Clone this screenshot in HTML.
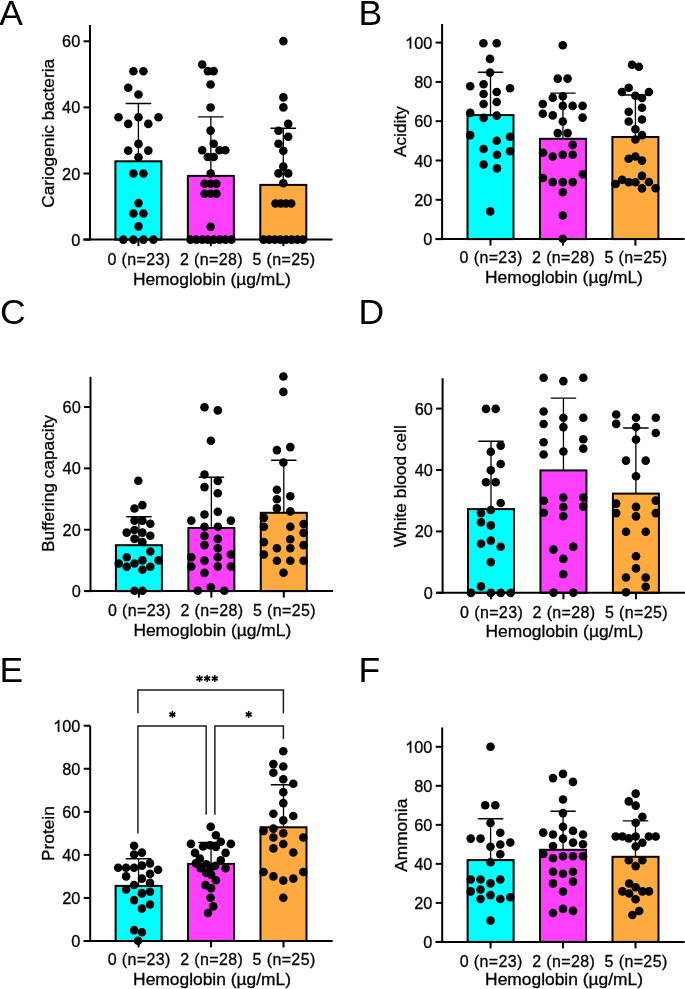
<!DOCTYPE html>
<html><head><meta charset="utf-8"><style>
html,body{margin:0;padding:0;background:#fff;}
svg{display:block;}
text{-webkit-font-smoothing:antialiased;}
text{font-family:"Liberation Sans", sans-serif;fill:#000;stroke:#000;stroke-width:0.3px;}
</style></head><body>
<svg style="will-change:transform" width="685" height="989" viewBox="0 0 685 989">
<rect width="685" height="989" fill="#fff"/>
<rect x="115.4" y="161.3" width="46" height="78.3" fill="#00FFFF" stroke="#000" stroke-width="2"/>
<rect x="187.85" y="175.9" width="46" height="63.7" fill="#FF40FF" stroke="#000" stroke-width="2"/>
<rect x="260.3" y="184.9" width="46" height="54.7" fill="#FFAB40" stroke="#000" stroke-width="2"/>
<line x1="138.4" y1="161.3" x2="138.4" y2="103.5" stroke="#000" stroke-width="1.3"/>
<line stroke-linecap="round" x1="126.2" y1="103.5" x2="150.6" y2="103.5" stroke="#000" stroke-width="1.4"/>
<line x1="210.85" y1="175.9" x2="210.85" y2="116.9" stroke="#000" stroke-width="1.3"/>
<line stroke-linecap="round" x1="198.65" y1="116.9" x2="223.05" y2="116.9" stroke="#000" stroke-width="1.4"/>
<line x1="283.3" y1="184.9" x2="283.3" y2="128.2" stroke="#000" stroke-width="1.3"/>
<line stroke-linecap="round" x1="271.1" y1="128.2" x2="295.5" y2="128.2" stroke="#000" stroke-width="1.4"/>
<circle cx="133.4" cy="71.2" r="4.3"/>
<circle cx="143.4" cy="71.2" r="4.3"/>
<circle cx="128.2" cy="87.8" r="4.3"/>
<circle cx="138.5" cy="94.5" r="4.3"/>
<circle cx="118.5" cy="117.2" r="4.3"/>
<circle cx="138.5" cy="117.2" r="4.3"/>
<circle cx="158.5" cy="117.2" r="4.3"/>
<circle cx="128.2" cy="123.9" r="4.3"/>
<circle cx="148.3" cy="123.9" r="4.3"/>
<circle cx="138.5" cy="143.9" r="4.3"/>
<circle cx="128.2" cy="150.6" r="4.3"/>
<circle cx="148.3" cy="150.6" r="4.3"/>
<circle cx="138.5" cy="157.3" r="4.3"/>
<circle cx="133.4" cy="173.5" r="4.3"/>
<circle cx="143.4" cy="173.5" r="4.3"/>
<circle cx="138.5" cy="203.1" r="4.3"/>
<circle cx="133.4" cy="213.5" r="4.3"/>
<circle cx="143.4" cy="213.5" r="4.3"/>
<circle cx="138.5" cy="226.4" r="4.3"/>
<circle cx="123.3" cy="239.6" r="4.3"/>
<circle cx="133.4" cy="239.6" r="4.3"/>
<circle cx="143.4" cy="239.6" r="4.3"/>
<circle cx="153.4" cy="239.6" r="4.3"/>
<circle cx="202.2" cy="64.5" r="4.3"/>
<circle cx="207.8" cy="71.1" r="4.3"/>
<circle cx="213.7" cy="71.1" r="4.3"/>
<circle cx="210.6" cy="84.5" r="4.3"/>
<circle cx="210.6" cy="107.5" r="4.3"/>
<circle cx="210.6" cy="130.6" r="4.3"/>
<circle cx="213.7" cy="143.7" r="4.3"/>
<circle cx="202.2" cy="150.3" r="4.3"/>
<circle cx="219.5" cy="150.3" r="4.3"/>
<circle cx="225.3" cy="150.3" r="4.3"/>
<circle cx="207.8" cy="157" r="4.3"/>
<circle cx="213.7" cy="157" r="4.3"/>
<circle cx="210.7" cy="173.5" r="4.3"/>
<circle cx="204.6" cy="183.8" r="4.3"/>
<circle cx="210.7" cy="183.8" r="4.3"/>
<circle cx="216.4" cy="183.8" r="4.3"/>
<circle cx="204.6" cy="193.7" r="4.3"/>
<circle cx="210.7" cy="193.7" r="4.3"/>
<circle cx="216.4" cy="193.7" r="4.3"/>
<circle cx="210.7" cy="226.7" r="4.3"/>
<circle cx="190.5" cy="239.6" r="4.3"/>
<circle cx="196.4" cy="239.6" r="4.3"/>
<circle cx="202.3" cy="239.6" r="4.3"/>
<circle cx="207.7" cy="239.6" r="4.3"/>
<circle cx="213.7" cy="239.6" r="4.3"/>
<circle cx="219.6" cy="239.6" r="4.3"/>
<circle cx="225.5" cy="239.6" r="4.3"/>
<circle cx="231.4" cy="239.6" r="4.3"/>
<circle cx="283.4" cy="41.1" r="4.3"/>
<circle cx="283.4" cy="97.4" r="4.3"/>
<circle cx="283.4" cy="107.4" r="4.3"/>
<circle cx="288.2" cy="123.9" r="4.3"/>
<circle cx="278.5" cy="130.7" r="4.3"/>
<circle cx="288.2" cy="136.8" r="4.3"/>
<circle cx="278.5" cy="143.7" r="4.3"/>
<circle cx="283.3" cy="150.8" r="4.3"/>
<circle cx="283.3" cy="166.6" r="4.3"/>
<circle cx="278.5" cy="173.4" r="4.3"/>
<circle cx="288.2" cy="173.4" r="4.3"/>
<circle cx="283.3" cy="183.2" r="4.3"/>
<circle cx="275.5" cy="203.5" r="4.3"/>
<circle cx="280.7" cy="203.5" r="4.3"/>
<circle cx="285.9" cy="203.5" r="4.3"/>
<circle cx="291.2" cy="203.5" r="4.3"/>
<circle cx="263.5" cy="239.6" r="4.3"/>
<circle cx="269.15" cy="239.6" r="4.3"/>
<circle cx="274.8" cy="239.6" r="4.3"/>
<circle cx="280.45" cy="239.6" r="4.3"/>
<circle cx="286.1" cy="239.6" r="4.3"/>
<circle cx="291.75" cy="239.6" r="4.3"/>
<circle cx="297.4" cy="239.6" r="4.3"/>
<circle cx="303.05" cy="239.6" r="4.3"/>
<line x1="90" y1="25" x2="90" y2="240.6" stroke="#000" stroke-width="2"/>
<line x1="83.5" y1="239.6" x2="332.5" y2="239.6" stroke="#000" stroke-width="2"/>
<line x1="83.5" y1="239.6" x2="90" y2="239.6" stroke="#000" stroke-width="2"/>
<text transform="translate(80.2,245.6)" font-size="16.3" text-anchor="end">0</text>
<line x1="83.5" y1="173.5" x2="90" y2="173.5" stroke="#000" stroke-width="2"/>
<text transform="translate(80.2,179.5)" font-size="16.3" text-anchor="end">20</text>
<line x1="83.5" y1="107.4" x2="90" y2="107.4" stroke="#000" stroke-width="2"/>
<text transform="translate(80.2,113.4)" font-size="16.3" text-anchor="end">40</text>
<line x1="83.5" y1="41.3" x2="90" y2="41.3" stroke="#000" stroke-width="2"/>
<text transform="translate(80.2,47.3)" font-size="16.3" text-anchor="end">60</text>
<line x1="138.4" y1="239.6" x2="138.4" y2="246.1" stroke="#000" stroke-width="2"/>
<line x1="210.85" y1="239.6" x2="210.85" y2="246.1" stroke="#000" stroke-width="2"/>
<line x1="283.3" y1="239.6" x2="283.3" y2="246.1" stroke="#000" stroke-width="2"/>
<text x="139" y="264.5" font-size="16" letter-spacing="0.37" text-anchor="middle">0 (n=23)</text>
<text x="211.45" y="264.5" font-size="16" letter-spacing="0.37" text-anchor="middle">2 (n=28)</text>
<text x="283.9" y="264.5" font-size="16" letter-spacing="0.37" text-anchor="middle">5 (n=25)</text>
<text x="211.85" y="284.9" font-size="17.4" text-anchor="middle">Hemoglobin (µg/mL)</text>
<text transform="translate(54.1,133.3) rotate(-90)" font-size="17.3" text-anchor="middle">Cariogenic bacteria</text>
<text x="-0.8" y="24.8" font-size="35.5" style="stroke:none">A</text>
<rect x="467.5" y="115.1" width="46" height="124" fill="#00FFFF" stroke="#000" stroke-width="2"/>
<rect x="539.95" y="138.8" width="46" height="100.3" fill="#FF40FF" stroke="#000" stroke-width="2"/>
<rect x="612.4" y="137" width="46" height="102.1" fill="#FFAB40" stroke="#000" stroke-width="2"/>
<line x1="490.5" y1="115.1" x2="490.5" y2="72.3" stroke="#000" stroke-width="1.3"/>
<line stroke-linecap="round" x1="478.3" y1="72.3" x2="502.7" y2="72.3" stroke="#000" stroke-width="1.4"/>
<line x1="562.95" y1="138.8" x2="562.95" y2="93.1" stroke="#000" stroke-width="1.3"/>
<line stroke-linecap="round" x1="550.75" y1="93.1" x2="575.15" y2="93.1" stroke="#000" stroke-width="1.4"/>
<line x1="635.4" y1="137" x2="635.4" y2="95" stroke="#000" stroke-width="1.3"/>
<line stroke-linecap="round" x1="623.2" y1="95" x2="647.6" y2="95" stroke="#000" stroke-width="1.4"/>
<circle cx="483.4" cy="43.3" r="4.3"/>
<circle cx="496.7" cy="43.3" r="4.3"/>
<circle cx="490" cy="58.9" r="4.3"/>
<circle cx="490" cy="72.6" r="4.3"/>
<circle cx="470.2" cy="86.2" r="4.3"/>
<circle cx="483.6" cy="84.3" r="4.3"/>
<circle cx="510" cy="88.2" r="4.3"/>
<circle cx="483.6" cy="94" r="4.3"/>
<circle cx="496.7" cy="92" r="4.3"/>
<circle cx="483.6" cy="104" r="4.3"/>
<circle cx="496.7" cy="102" r="4.3"/>
<circle cx="470.2" cy="112.9" r="4.3"/>
<circle cx="483.6" cy="117.9" r="4.3"/>
<circle cx="496.7" cy="115.6" r="4.3"/>
<circle cx="470.2" cy="135.1" r="4.3"/>
<circle cx="510" cy="136.8" r="4.3"/>
<circle cx="496.7" cy="140.7" r="4.3"/>
<circle cx="483.6" cy="149" r="4.3"/>
<circle cx="510" cy="151.2" r="4.3"/>
<circle cx="497" cy="154.8" r="4.3"/>
<circle cx="483.6" cy="164.5" r="4.3"/>
<circle cx="497" cy="168.4" r="4.3"/>
<circle cx="490.2" cy="211.4" r="4.3"/>
<circle cx="562.8" cy="45.2" r="4.3"/>
<circle cx="557.8" cy="78.6" r="4.3"/>
<circle cx="567.6" cy="78.6" r="4.3"/>
<circle cx="562.8" cy="96.2" r="4.3"/>
<circle cx="552.8" cy="97.8" r="4.3"/>
<circle cx="542.8" cy="104" r="4.3"/>
<circle cx="562.8" cy="105.9" r="4.3"/>
<circle cx="572.6" cy="105.9" r="4.3"/>
<circle cx="582.6" cy="105.9" r="4.3"/>
<circle cx="542.8" cy="113.8" r="4.3"/>
<circle cx="552.8" cy="115.4" r="4.3"/>
<circle cx="582.6" cy="117.6" r="4.3"/>
<circle cx="562.8" cy="121.5" r="4.3"/>
<circle cx="557.8" cy="133.1" r="4.3"/>
<circle cx="567.6" cy="133.1" r="4.3"/>
<circle cx="572.7" cy="144.9" r="4.3"/>
<circle cx="543" cy="152.7" r="4.3"/>
<circle cx="552.7" cy="156.5" r="4.3"/>
<circle cx="562.8" cy="154.7" r="4.3"/>
<circle cx="572.7" cy="154.7" r="4.3"/>
<circle cx="582.8" cy="174.2" r="4.3"/>
<circle cx="543" cy="178" r="4.3"/>
<circle cx="552.7" cy="182.1" r="4.3"/>
<circle cx="562.8" cy="182.1" r="4.3"/>
<circle cx="572.7" cy="182.1" r="4.3"/>
<circle cx="562.8" cy="192.2" r="4.3"/>
<circle cx="562.8" cy="215.5" r="4.3"/>
<circle cx="562.8" cy="238.7" r="4.3"/>
<circle cx="632" cy="64.7" r="4.3"/>
<circle cx="638.9" cy="66.7" r="4.3"/>
<circle cx="628.7" cy="87.8" r="4.3"/>
<circle cx="621.9" cy="92" r="4.3"/>
<circle cx="648.9" cy="92" r="4.3"/>
<circle cx="635.4" cy="95.8" r="4.3"/>
<circle cx="642" cy="98" r="4.3"/>
<circle cx="642" cy="107.8" r="4.3"/>
<circle cx="628.7" cy="111.7" r="4.3"/>
<circle cx="628.7" cy="121.5" r="4.3"/>
<circle cx="642" cy="119.5" r="4.3"/>
<circle cx="635.4" cy="129.3" r="4.3"/>
<circle cx="642" cy="135.1" r="4.3"/>
<circle cx="635.4" cy="139.5" r="4.3"/>
<circle cx="628.7" cy="158.7" r="4.3"/>
<circle cx="635.4" cy="156.5" r="4.3"/>
<circle cx="642" cy="160.6" r="4.3"/>
<circle cx="615.6" cy="184" r="4.3"/>
<circle cx="622.2" cy="179.8" r="4.3"/>
<circle cx="628.7" cy="182.3" r="4.3"/>
<circle cx="635.4" cy="182.3" r="4.3"/>
<circle cx="642" cy="175.9" r="4.3"/>
<circle cx="642" cy="188.4" r="4.3"/>
<circle cx="648.9" cy="182" r="4.3"/>
<circle cx="655.6" cy="188.2" r="4.3"/>
<line x1="442.1" y1="24" x2="442.1" y2="240.1" stroke="#000" stroke-width="2"/>
<line x1="435.6" y1="239.1" x2="684.6" y2="239.1" stroke="#000" stroke-width="2"/>
<line x1="435.6" y1="239.1" x2="442.1" y2="239.1" stroke="#000" stroke-width="2"/>
<text transform="translate(432.3,245.1)" font-size="16.3" text-anchor="end">0</text>
<line x1="435.6" y1="199.8" x2="442.1" y2="199.8" stroke="#000" stroke-width="2"/>
<text transform="translate(432.3,205.8)" font-size="16.3" text-anchor="end">20</text>
<line x1="435.6" y1="160.5" x2="442.1" y2="160.5" stroke="#000" stroke-width="2"/>
<text transform="translate(432.3,166.5)" font-size="16.3" text-anchor="end">40</text>
<line x1="435.6" y1="121.2" x2="442.1" y2="121.2" stroke="#000" stroke-width="2"/>
<text transform="translate(432.3,127.2)" font-size="16.3" text-anchor="end">60</text>
<line x1="435.6" y1="81.9" x2="442.1" y2="81.9" stroke="#000" stroke-width="2"/>
<text transform="translate(432.3,87.9)" font-size="16.3" text-anchor="end">80</text>
<line x1="435.6" y1="42.6" x2="442.1" y2="42.6" stroke="#000" stroke-width="2"/>
<text transform="translate(432.3,48.6)" font-size="16.3" text-anchor="end">00</text>
<path transform="translate(405.1,48.6) scale(0.007959,-0.007959)" d="M763 0L583 0L583 1147Q518 1085 412 1023Q306 961 221 930L221 1104Q372 1175 485 1276Q598 1377 645 1472L763 1472Z" stroke="#000" stroke-width="37.7"/>
<line x1="490.5" y1="239.1" x2="490.5" y2="245.6" stroke="#000" stroke-width="2"/>
<line x1="562.95" y1="239.1" x2="562.95" y2="245.6" stroke="#000" stroke-width="2"/>
<line x1="635.4" y1="239.1" x2="635.4" y2="245.6" stroke="#000" stroke-width="2"/>
<text x="491.1" y="263.3" font-size="16" letter-spacing="0.37" text-anchor="middle">0 (n=23)</text>
<text x="563.55" y="263.3" font-size="16" letter-spacing="0.37" text-anchor="middle">2 (n=28)</text>
<text x="636" y="263.3" font-size="16" letter-spacing="0.37" text-anchor="middle">5 (n=25)</text>
<text x="563.95" y="283" font-size="17.4" text-anchor="middle">Hemoglobin (µg/mL)</text>
<text transform="translate(406.2,131.6) rotate(-90)" font-size="17.3" text-anchor="middle">Acidity</text>
<text x="358.6" y="24.8" font-size="35.5" style="stroke:none">B</text>
<rect x="115.9" y="545.2" width="46" height="45.9" fill="#00FFFF" stroke="#000" stroke-width="2"/>
<rect x="188.35" y="528" width="46" height="63.1" fill="#FF40FF" stroke="#000" stroke-width="2"/>
<rect x="260.8" y="512.8" width="46" height="78.3" fill="#FFAB40" stroke="#000" stroke-width="2"/>
<line x1="138.9" y1="545.2" x2="138.9" y2="516.8" stroke="#000" stroke-width="1.3"/>
<line stroke-linecap="round" x1="126.7" y1="516.8" x2="151.1" y2="516.8" stroke="#000" stroke-width="1.4"/>
<line x1="211.35" y1="528" x2="211.35" y2="477.3" stroke="#000" stroke-width="1.3"/>
<line stroke-linecap="round" x1="199.15" y1="477.3" x2="223.55" y2="477.3" stroke="#000" stroke-width="1.4"/>
<line x1="283.8" y1="512.8" x2="283.8" y2="460.3" stroke="#000" stroke-width="1.3"/>
<line stroke-linecap="round" x1="271.6" y1="460.3" x2="296" y2="460.3" stroke="#000" stroke-width="1.4"/>
<circle cx="138.3" cy="480.7" r="4.3"/>
<circle cx="142.4" cy="505.1" r="4.3"/>
<circle cx="134.5" cy="508.5" r="4.3"/>
<circle cx="134.5" cy="520.6" r="4.3"/>
<circle cx="142.4" cy="520.6" r="4.3"/>
<circle cx="150.3" cy="523.7" r="4.3"/>
<circle cx="126.7" cy="532.6" r="4.3"/>
<circle cx="134.5" cy="530" r="4.3"/>
<circle cx="142.4" cy="532.6" r="4.3"/>
<circle cx="150.3" cy="535.7" r="4.3"/>
<circle cx="134.5" cy="538.9" r="4.3"/>
<circle cx="142.4" cy="542" r="4.3"/>
<circle cx="150.3" cy="551.5" r="4.3"/>
<circle cx="126.7" cy="557.2" r="4.3"/>
<circle cx="118.7" cy="563.5" r="4.3"/>
<circle cx="134.5" cy="563.5" r="4.3"/>
<circle cx="142.4" cy="560.4" r="4.3"/>
<circle cx="158.6" cy="560.4" r="4.3"/>
<circle cx="126.7" cy="566.7" r="4.3"/>
<circle cx="142.4" cy="569.8" r="4.3"/>
<circle cx="150.3" cy="566.7" r="4.3"/>
<circle cx="134.5" cy="590.7" r="4.3"/>
<circle cx="142.4" cy="590.7" r="4.3"/>
<circle cx="204.5" cy="407.2" r="4.3"/>
<circle cx="217.8" cy="410.4" r="4.3"/>
<circle cx="210.9" cy="440.8" r="4.3"/>
<circle cx="204.5" cy="474.5" r="4.3"/>
<circle cx="217.8" cy="480.9" r="4.3"/>
<circle cx="204.5" cy="487.1" r="4.3"/>
<circle cx="217.8" cy="493.3" r="4.3"/>
<circle cx="204.5" cy="514.5" r="4.3"/>
<circle cx="217.8" cy="511.7" r="4.3"/>
<circle cx="191.3" cy="520.6" r="4.3"/>
<circle cx="230.9" cy="520.6" r="4.3"/>
<circle cx="204.5" cy="526.7" r="4.3"/>
<circle cx="217.8" cy="526.7" r="4.3"/>
<circle cx="204.5" cy="535.9" r="4.3"/>
<circle cx="217.8" cy="538.9" r="4.3"/>
<circle cx="204.5" cy="545.1" r="4.3"/>
<circle cx="217.8" cy="548.2" r="4.3"/>
<circle cx="191.3" cy="557.3" r="4.3"/>
<circle cx="230.9" cy="554.5" r="4.3"/>
<circle cx="204.5" cy="560.6" r="4.3"/>
<circle cx="217.8" cy="557.3" r="4.3"/>
<circle cx="191.3" cy="566.5" r="4.3"/>
<circle cx="217.8" cy="566.5" r="4.3"/>
<circle cx="230.9" cy="566.5" r="4.3"/>
<circle cx="204.5" cy="572.9" r="4.3"/>
<circle cx="210.9" cy="587.3" r="4.3"/>
<circle cx="197.8" cy="590.7" r="4.3"/>
<circle cx="224.3" cy="590.7" r="4.3"/>
<circle cx="283.4" cy="376.5" r="4.3"/>
<circle cx="283.4" cy="391.9" r="4.3"/>
<circle cx="276.9" cy="450.1" r="4.3"/>
<circle cx="290.3" cy="447.1" r="4.3"/>
<circle cx="283.4" cy="462.5" r="4.3"/>
<circle cx="276.9" cy="489.8" r="4.3"/>
<circle cx="290.3" cy="496.2" r="4.3"/>
<circle cx="276.9" cy="499.2" r="4.3"/>
<circle cx="276.9" cy="508.4" r="4.3"/>
<circle cx="290.3" cy="511.4" r="4.3"/>
<circle cx="263.9" cy="517.8" r="4.3"/>
<circle cx="303.6" cy="524" r="4.3"/>
<circle cx="263.9" cy="526.7" r="4.3"/>
<circle cx="290.3" cy="526.7" r="4.3"/>
<circle cx="303.6" cy="532.9" r="4.3"/>
<circle cx="263.9" cy="542.1" r="4.3"/>
<circle cx="290.3" cy="539.2" r="4.3"/>
<circle cx="276.9" cy="548.2" r="4.3"/>
<circle cx="290.3" cy="548.2" r="4.3"/>
<circle cx="303.6" cy="545.1" r="4.3"/>
<circle cx="263.9" cy="554.5" r="4.3"/>
<circle cx="276.9" cy="560.7" r="4.3"/>
<circle cx="290.3" cy="560.7" r="4.3"/>
<circle cx="303.6" cy="560.7" r="4.3"/>
<circle cx="283.5" cy="572.8" r="4.3"/>
<line x1="90.5" y1="376.8" x2="90.5" y2="592.1" stroke="#000" stroke-width="2"/>
<line x1="84" y1="591.1" x2="333" y2="591.1" stroke="#000" stroke-width="2"/>
<line x1="84" y1="591.1" x2="90.5" y2="591.1" stroke="#000" stroke-width="2"/>
<text transform="translate(80.7,597.1)" font-size="16.3" text-anchor="end">0</text>
<line x1="84" y1="529.74" x2="90.5" y2="529.74" stroke="#000" stroke-width="2"/>
<text transform="translate(80.7,535.74)" font-size="16.3" text-anchor="end">20</text>
<line x1="84" y1="468.38" x2="90.5" y2="468.38" stroke="#000" stroke-width="2"/>
<text transform="translate(80.7,474.38)" font-size="16.3" text-anchor="end">40</text>
<line x1="84" y1="407.02" x2="90.5" y2="407.02" stroke="#000" stroke-width="2"/>
<text transform="translate(80.7,413.02)" font-size="16.3" text-anchor="end">60</text>
<line x1="138.9" y1="591.1" x2="138.9" y2="597.6" stroke="#000" stroke-width="2"/>
<line x1="211.35" y1="591.1" x2="211.35" y2="597.6" stroke="#000" stroke-width="2"/>
<line x1="283.8" y1="591.1" x2="283.8" y2="597.6" stroke="#000" stroke-width="2"/>
<text x="139.5" y="615.9" font-size="16" letter-spacing="0.37" text-anchor="middle">0 (n=23)</text>
<text x="211.95" y="615.9" font-size="16" letter-spacing="0.37" text-anchor="middle">2 (n=28)</text>
<text x="284.4" y="615.9" font-size="16" letter-spacing="0.37" text-anchor="middle">5 (n=25)</text>
<text x="212.35" y="635.6" font-size="17.4" text-anchor="middle">Hemoglobin (µg/mL)</text>
<text transform="translate(53.6,483.4) rotate(-90)" font-size="17.3" text-anchor="middle">Buffering capacity</text>
<text x="0" y="324.1" font-size="35.5" style="stroke:none">C</text>
<rect x="468" y="509.1" width="46" height="83.7" fill="#00FFFF" stroke="#000" stroke-width="2"/>
<rect x="540.45" y="470.4" width="46" height="122.4" fill="#FF40FF" stroke="#000" stroke-width="2"/>
<rect x="612.9" y="493.6" width="46" height="99.2" fill="#FFAB40" stroke="#000" stroke-width="2"/>
<line x1="491" y1="509.1" x2="491" y2="441.2" stroke="#000" stroke-width="1.3"/>
<line stroke-linecap="round" x1="478.8" y1="441.2" x2="503.2" y2="441.2" stroke="#000" stroke-width="1.4"/>
<line x1="563.45" y1="470.4" x2="563.45" y2="398.1" stroke="#000" stroke-width="1.3"/>
<line stroke-linecap="round" x1="551.25" y1="398.1" x2="575.65" y2="398.1" stroke="#000" stroke-width="1.4"/>
<line x1="635.9" y1="493.6" x2="635.9" y2="428" stroke="#000" stroke-width="1.3"/>
<line stroke-linecap="round" x1="623.7" y1="428" x2="648.1" y2="428" stroke="#000" stroke-width="1.4"/>
<circle cx="486" cy="408.9" r="4.3"/>
<circle cx="495.7" cy="408.9" r="4.3"/>
<circle cx="500.7" cy="445.6" r="4.3"/>
<circle cx="490.8" cy="451.7" r="4.3"/>
<circle cx="500.7" cy="464" r="4.3"/>
<circle cx="490.8" cy="470.3" r="4.3"/>
<circle cx="486" cy="482.3" r="4.3"/>
<circle cx="495.7" cy="482.3" r="4.3"/>
<circle cx="500.7" cy="503" r="4.3"/>
<circle cx="490.8" cy="510" r="4.3"/>
<circle cx="481" cy="513.1" r="4.3"/>
<circle cx="481" cy="522.3" r="4.3"/>
<circle cx="490.8" cy="525.4" r="4.3"/>
<circle cx="490.8" cy="540.6" r="4.3"/>
<circle cx="481" cy="543.7" r="4.3"/>
<circle cx="500.7" cy="546.7" r="4.3"/>
<circle cx="490.8" cy="562.1" r="4.3"/>
<circle cx="481" cy="586.4" r="4.3"/>
<circle cx="471" cy="592.9" r="4.3"/>
<circle cx="490.8" cy="592.9" r="4.3"/>
<circle cx="500.7" cy="592.9" r="4.3"/>
<circle cx="510.6" cy="592.9" r="4.3"/>
<circle cx="543.6" cy="377.8" r="4.3"/>
<circle cx="563.4" cy="381.1" r="4.3"/>
<circle cx="583.3" cy="377.8" r="4.3"/>
<circle cx="543.6" cy="411.5" r="4.3"/>
<circle cx="563.4" cy="417.8" r="4.3"/>
<circle cx="583.3" cy="417.8" r="4.3"/>
<circle cx="543.6" cy="424" r="4.3"/>
<circle cx="563.4" cy="427.1" r="4.3"/>
<circle cx="543.6" cy="442.3" r="4.3"/>
<circle cx="583.3" cy="439.3" r="4.3"/>
<circle cx="583.3" cy="448.6" r="4.3"/>
<circle cx="563.4" cy="451.5" r="4.3"/>
<circle cx="543.6" cy="454.5" r="4.3"/>
<circle cx="543.9" cy="500.8" r="4.3"/>
<circle cx="563.3" cy="497.5" r="4.3"/>
<circle cx="583.2" cy="497.5" r="4.3"/>
<circle cx="543.9" cy="512.8" r="4.3"/>
<circle cx="563.3" cy="507" r="4.3"/>
<circle cx="583.2" cy="506.6" r="4.3"/>
<circle cx="563.3" cy="516.2" r="4.3"/>
<circle cx="553.5" cy="549.6" r="4.3"/>
<circle cx="573.3" cy="546.6" r="4.3"/>
<circle cx="563.3" cy="558.9" r="4.3"/>
<circle cx="563.3" cy="574.2" r="4.3"/>
<circle cx="553.5" cy="592.6" r="4.3"/>
<circle cx="573.3" cy="592.6" r="4.3"/>
<circle cx="616.2" cy="414.5" r="4.3"/>
<circle cx="616.2" cy="423.9" r="4.3"/>
<circle cx="636" cy="417.8" r="4.3"/>
<circle cx="655.8" cy="417.8" r="4.3"/>
<circle cx="636" cy="427" r="4.3"/>
<circle cx="655.8" cy="433" r="4.3"/>
<circle cx="636" cy="439.5" r="4.3"/>
<circle cx="626" cy="460.6" r="4.3"/>
<circle cx="645.7" cy="460.6" r="4.3"/>
<circle cx="636" cy="476.2" r="4.3"/>
<circle cx="616.2" cy="503.6" r="4.3"/>
<circle cx="655.8" cy="500.6" r="4.3"/>
<circle cx="636" cy="506.9" r="4.3"/>
<circle cx="616.2" cy="513.1" r="4.3"/>
<circle cx="655.8" cy="513.1" r="4.3"/>
<circle cx="636" cy="516.4" r="4.3"/>
<circle cx="626" cy="531.7" r="4.3"/>
<circle cx="645.7" cy="531.7" r="4.3"/>
<circle cx="636" cy="556.2" r="4.3"/>
<circle cx="636" cy="568.4" r="4.3"/>
<circle cx="626" cy="577.5" r="4.3"/>
<circle cx="645.7" cy="577.5" r="4.3"/>
<circle cx="645.7" cy="586.8" r="4.3"/>
<circle cx="626" cy="592.3" r="4.3"/>
<line x1="442.6" y1="378.2" x2="442.6" y2="593.8" stroke="#000" stroke-width="2"/>
<line x1="436.1" y1="592.8" x2="685.1" y2="592.8" stroke="#000" stroke-width="2"/>
<line x1="436.1" y1="592.8" x2="442.6" y2="592.8" stroke="#000" stroke-width="2"/>
<text transform="translate(432.8,598.8)" font-size="16.3" text-anchor="end">0</text>
<line x1="436.1" y1="531.4" x2="442.6" y2="531.4" stroke="#000" stroke-width="2"/>
<text transform="translate(432.8,537.4)" font-size="16.3" text-anchor="end">20</text>
<line x1="436.1" y1="470" x2="442.6" y2="470" stroke="#000" stroke-width="2"/>
<text transform="translate(432.8,476)" font-size="16.3" text-anchor="end">40</text>
<line x1="436.1" y1="408.6" x2="442.6" y2="408.6" stroke="#000" stroke-width="2"/>
<text transform="translate(432.8,414.6)" font-size="16.3" text-anchor="end">60</text>
<line x1="491" y1="592.8" x2="491" y2="599.3" stroke="#000" stroke-width="2"/>
<line x1="563.45" y1="592.8" x2="563.45" y2="599.3" stroke="#000" stroke-width="2"/>
<line x1="635.9" y1="592.8" x2="635.9" y2="599.3" stroke="#000" stroke-width="2"/>
<text x="491.6" y="617.7" font-size="16" letter-spacing="0.37" text-anchor="middle">0 (n=23)</text>
<text x="564.05" y="617.7" font-size="16" letter-spacing="0.37" text-anchor="middle">2 (n=28)</text>
<text x="636.5" y="617.7" font-size="16" letter-spacing="0.37" text-anchor="middle">5 (n=25)</text>
<text x="564.45" y="637" font-size="17.4" text-anchor="middle">Hemoglobin (µg/mL)</text>
<text transform="translate(406.4,486.2) rotate(-90)" font-size="17.3" text-anchor="middle">White blood cell</text>
<text x="358.6" y="324.1" font-size="35.5" style="stroke:none">D</text>
<rect x="115.6" y="885.9" width="46" height="55.1" fill="#00FFFF" stroke="#000" stroke-width="2"/>
<rect x="188.05" y="863.9" width="46" height="77.1" fill="#FF40FF" stroke="#000" stroke-width="2"/>
<rect x="260.5" y="827.3" width="46" height="113.7" fill="#FFAB40" stroke="#000" stroke-width="2"/>
<line x1="138.6" y1="885.9" x2="138.6" y2="858.7" stroke="#000" stroke-width="1.3"/>
<line stroke-linecap="round" x1="126.4" y1="858.7" x2="150.8" y2="858.7" stroke="#000" stroke-width="1.4"/>
<line x1="211.05" y1="863.9" x2="211.05" y2="842.5" stroke="#000" stroke-width="1.3"/>
<line stroke-linecap="round" x1="198.85" y1="842.5" x2="223.25" y2="842.5" stroke="#000" stroke-width="1.4"/>
<line x1="283.5" y1="827.3" x2="283.5" y2="784.7" stroke="#000" stroke-width="1.3"/>
<line stroke-linecap="round" x1="271.3" y1="784.7" x2="295.7" y2="784.7" stroke="#000" stroke-width="1.4"/>
<circle cx="134.1" cy="845.8" r="4.3"/>
<circle cx="141.9" cy="852.6" r="4.3"/>
<circle cx="134.1" cy="854.5" r="4.3"/>
<circle cx="150" cy="863.4" r="4.3"/>
<circle cx="118.2" cy="867.8" r="4.3"/>
<circle cx="126.1" cy="867.8" r="4.3"/>
<circle cx="134.1" cy="867.8" r="4.3"/>
<circle cx="141.9" cy="865.6" r="4.3"/>
<circle cx="158.1" cy="869.7" r="4.3"/>
<circle cx="126.1" cy="876.4" r="4.3"/>
<circle cx="150" cy="873.9" r="4.3"/>
<circle cx="141.9" cy="878.6" r="4.3"/>
<circle cx="134.1" cy="885" r="4.3"/>
<circle cx="150" cy="882.8" r="4.3"/>
<circle cx="126.1" cy="889.5" r="4.3"/>
<circle cx="141.9" cy="893.4" r="4.3"/>
<circle cx="150" cy="891.7" r="4.3"/>
<circle cx="134.1" cy="900.1" r="4.3"/>
<circle cx="150" cy="904.5" r="4.3"/>
<circle cx="141.9" cy="908.6" r="4.3"/>
<circle cx="134.1" cy="930.1" r="4.3"/>
<circle cx="141.9" cy="932.3" r="4.3"/>
<circle cx="138" cy="940.7" r="4.3"/>
<circle cx="210.7" cy="826.8" r="4.3"/>
<circle cx="215.9" cy="835.3" r="4.3"/>
<circle cx="220.8" cy="841.7" r="4.3"/>
<circle cx="190.9" cy="843.9" r="4.3"/>
<circle cx="230.8" cy="843.9" r="4.3"/>
<circle cx="203.1" cy="846.5" r="4.3"/>
<circle cx="209.9" cy="845.3" r="4.3"/>
<circle cx="215.9" cy="846.9" r="4.3"/>
<circle cx="195" cy="852.9" r="4.3"/>
<circle cx="225.6" cy="852.9" r="4.3"/>
<circle cx="199.9" cy="858.6" r="4.3"/>
<circle cx="220.8" cy="860.2" r="4.3"/>
<circle cx="195.9" cy="863.4" r="4.3"/>
<circle cx="206.3" cy="864.2" r="4.3"/>
<circle cx="215.1" cy="865.8" r="4.3"/>
<circle cx="225.6" cy="868.2" r="4.3"/>
<circle cx="200.7" cy="868.2" r="4.3"/>
<circle cx="206.3" cy="873" r="4.3"/>
<circle cx="211.1" cy="874.6" r="4.3"/>
<circle cx="215.9" cy="880.2" r="4.3"/>
<circle cx="205.5" cy="885.1" r="4.3"/>
<circle cx="211.1" cy="888.3" r="4.3"/>
<circle cx="210.7" cy="867.4" r="4.3"/>
<circle cx="210.6" cy="897.8" r="4.3"/>
<circle cx="213.2" cy="906.4" r="4.3"/>
<circle cx="208" cy="913" r="4.3"/>
<circle cx="283.3" cy="751.3" r="4.3"/>
<circle cx="273.4" cy="764.1" r="4.3"/>
<circle cx="283.3" cy="766.5" r="4.3"/>
<circle cx="273.4" cy="772.8" r="4.3"/>
<circle cx="283.3" cy="779.3" r="4.3"/>
<circle cx="293.3" cy="783.7" r="4.3"/>
<circle cx="283.3" cy="792.3" r="4.3"/>
<circle cx="283.3" cy="803.1" r="4.3"/>
<circle cx="273.4" cy="813.7" r="4.3"/>
<circle cx="293.3" cy="816" r="4.3"/>
<circle cx="283.3" cy="820.4" r="4.3"/>
<circle cx="263.6" cy="830.9" r="4.3"/>
<circle cx="273.4" cy="828.6" r="4.3"/>
<circle cx="283.3" cy="833.2" r="4.3"/>
<circle cx="273.4" cy="837.5" r="4.3"/>
<circle cx="303.3" cy="837.5" r="4.3"/>
<circle cx="283.3" cy="844" r="4.3"/>
<circle cx="273.4" cy="848.4" r="4.3"/>
<circle cx="293.3" cy="852.5" r="4.3"/>
<circle cx="263.6" cy="872" r="4.3"/>
<circle cx="303.3" cy="872" r="4.3"/>
<circle cx="273.4" cy="876.4" r="4.3"/>
<circle cx="293.3" cy="878.6" r="4.3"/>
<circle cx="283.3" cy="880.6" r="4.3"/>
<circle cx="283.3" cy="897.8" r="4.3"/>
<line x1="90.2" y1="725.7" x2="90.2" y2="942" stroke="#000" stroke-width="2"/>
<line x1="83.7" y1="941" x2="332.7" y2="941" stroke="#000" stroke-width="2"/>
<line x1="83.7" y1="941" x2="90.2" y2="941" stroke="#000" stroke-width="2"/>
<text transform="translate(80.4,947)" font-size="16.3" text-anchor="end">0</text>
<line x1="83.7" y1="897.94" x2="90.2" y2="897.94" stroke="#000" stroke-width="2"/>
<text transform="translate(80.4,903.94)" font-size="16.3" text-anchor="end">20</text>
<line x1="83.7" y1="854.88" x2="90.2" y2="854.88" stroke="#000" stroke-width="2"/>
<text transform="translate(80.4,860.88)" font-size="16.3" text-anchor="end">40</text>
<line x1="83.7" y1="811.82" x2="90.2" y2="811.82" stroke="#000" stroke-width="2"/>
<text transform="translate(80.4,817.82)" font-size="16.3" text-anchor="end">60</text>
<line x1="83.7" y1="768.76" x2="90.2" y2="768.76" stroke="#000" stroke-width="2"/>
<text transform="translate(80.4,774.76)" font-size="16.3" text-anchor="end">80</text>
<line x1="83.7" y1="725.7" x2="90.2" y2="725.7" stroke="#000" stroke-width="2"/>
<text transform="translate(80.4,731.7)" font-size="16.3" text-anchor="end">00</text>
<path transform="translate(53.2,731.7) scale(0.007959,-0.007959)" d="M763 0L583 0L583 1147Q518 1085 412 1023Q306 961 221 930L221 1104Q372 1175 485 1276Q598 1377 645 1472L763 1472Z" stroke="#000" stroke-width="37.7"/>
<line x1="138.6" y1="941" x2="138.6" y2="947.5" stroke="#000" stroke-width="2"/>
<line x1="211.05" y1="941" x2="211.05" y2="947.5" stroke="#000" stroke-width="2"/>
<line x1="283.5" y1="941" x2="283.5" y2="947.5" stroke="#000" stroke-width="2"/>
<text x="139.2" y="965.4" font-size="16" letter-spacing="0.37" text-anchor="middle">0 (n=23)</text>
<text x="211.65" y="965.4" font-size="16" letter-spacing="0.37" text-anchor="middle">2 (n=28)</text>
<text x="284.1" y="965.4" font-size="16" letter-spacing="0.37" text-anchor="middle">5 (n=25)</text>
<text x="212.05" y="985" font-size="17.4" text-anchor="middle">Hemoglobin (µg/mL)</text>
<text transform="translate(54.3,833.6) rotate(-90)" font-size="17.3" text-anchor="middle">Protein</text>
<text x="-0.4" y="682" font-size="35.5" style="stroke:none">E</text>
<rect x="467.6" y="860.1" width="46" height="81.8" fill="#00FFFF" stroke="#000" stroke-width="2"/>
<rect x="540.05" y="849.8" width="46" height="92.1" fill="#FF40FF" stroke="#000" stroke-width="2"/>
<rect x="612.5" y="856.8" width="46" height="85.1" fill="#FFAB40" stroke="#000" stroke-width="2"/>
<line x1="490.6" y1="860.1" x2="490.6" y2="818.7" stroke="#000" stroke-width="1.3"/>
<line stroke-linecap="round" x1="478.4" y1="818.7" x2="502.8" y2="818.7" stroke="#000" stroke-width="1.4"/>
<line x1="563.05" y1="849.8" x2="563.05" y2="811.2" stroke="#000" stroke-width="1.3"/>
<line stroke-linecap="round" x1="550.85" y1="811.2" x2="575.25" y2="811.2" stroke="#000" stroke-width="1.4"/>
<line x1="635.5" y1="856.8" x2="635.5" y2="820.9" stroke="#000" stroke-width="1.3"/>
<line stroke-linecap="round" x1="623.3" y1="820.9" x2="647.7" y2="820.9" stroke="#000" stroke-width="1.4"/>
<circle cx="490.5" cy="746.8" r="4.3"/>
<circle cx="485.2" cy="805.3" r="4.3"/>
<circle cx="495.3" cy="805.3" r="4.3"/>
<circle cx="490.5" cy="823" r="4.3"/>
<circle cx="500.3" cy="832.8" r="4.3"/>
<circle cx="470.7" cy="838.6" r="4.3"/>
<circle cx="480.5" cy="838.6" r="4.3"/>
<circle cx="510.3" cy="842.5" r="4.3"/>
<circle cx="490.5" cy="846.7" r="4.3"/>
<circle cx="500.3" cy="844.5" r="4.3"/>
<circle cx="500.3" cy="854.3" r="4.3"/>
<circle cx="490.5" cy="862.3" r="4.3"/>
<circle cx="470.7" cy="879.5" r="4.3"/>
<circle cx="480.5" cy="879.5" r="4.3"/>
<circle cx="490.5" cy="883.4" r="4.3"/>
<circle cx="500.3" cy="879.5" r="4.3"/>
<circle cx="470.7" cy="891.4" r="4.3"/>
<circle cx="480.5" cy="889.5" r="4.3"/>
<circle cx="490.5" cy="895.1" r="4.3"/>
<circle cx="480.5" cy="899" r="4.3"/>
<circle cx="500.3" cy="899" r="4.3"/>
<circle cx="510.3" cy="897.3" r="4.3"/>
<circle cx="490.5" cy="920.6" r="4.3"/>
<circle cx="553" cy="778.1" r="4.3"/>
<circle cx="563" cy="773.9" r="4.3"/>
<circle cx="573" cy="781.9" r="4.3"/>
<circle cx="563" cy="799.5" r="4.3"/>
<circle cx="563" cy="813.1" r="4.3"/>
<circle cx="563" cy="826.7" r="4.3"/>
<circle cx="543.2" cy="832.6" r="4.3"/>
<circle cx="553" cy="834.5" r="4.3"/>
<circle cx="573" cy="830.9" r="4.3"/>
<circle cx="583" cy="834.5" r="4.3"/>
<circle cx="563" cy="838.6" r="4.3"/>
<circle cx="573" cy="842.6" r="4.3"/>
<circle cx="583" cy="844.2" r="4.3"/>
<circle cx="553" cy="846" r="4.3"/>
<circle cx="543.2" cy="854" r="4.3"/>
<circle cx="553" cy="858.2" r="4.3"/>
<circle cx="563" cy="856.2" r="4.3"/>
<circle cx="573" cy="856.2" r="4.3"/>
<circle cx="583" cy="856.2" r="4.3"/>
<circle cx="553" cy="871.8" r="4.3"/>
<circle cx="563" cy="873.8" r="4.3"/>
<circle cx="573" cy="871.8" r="4.3"/>
<circle cx="553" cy="883.4" r="4.3"/>
<circle cx="573" cy="881.6" r="4.3"/>
<circle cx="563" cy="891.5" r="4.3"/>
<circle cx="553" cy="913" r="4.3"/>
<circle cx="563" cy="908.9" r="4.3"/>
<circle cx="573" cy="910.9" r="4.3"/>
<circle cx="635.7" cy="793.6" r="4.3"/>
<circle cx="628.8" cy="801.4" r="4.3"/>
<circle cx="635.7" cy="805.6" r="4.3"/>
<circle cx="642.4" cy="816.7" r="4.3"/>
<circle cx="635.7" cy="822.8" r="4.3"/>
<circle cx="615.7" cy="836.5" r="4.3"/>
<circle cx="622.4" cy="836.5" r="4.3"/>
<circle cx="628.8" cy="838.4" r="4.3"/>
<circle cx="635.7" cy="836.5" r="4.3"/>
<circle cx="648.8" cy="836.5" r="4.3"/>
<circle cx="655.7" cy="836.5" r="4.3"/>
<circle cx="642.4" cy="842.8" r="4.3"/>
<circle cx="635.7" cy="846.5" r="4.3"/>
<circle cx="628.8" cy="860.3" r="4.3"/>
<circle cx="642.4" cy="860.3" r="4.3"/>
<circle cx="635.7" cy="866.1" r="4.3"/>
<circle cx="629.2" cy="883.5" r="4.3"/>
<circle cx="635.6" cy="887.3" r="4.3"/>
<circle cx="622.4" cy="891.4" r="4.3"/>
<circle cx="629.2" cy="893.5" r="4.3"/>
<circle cx="642.4" cy="891.4" r="4.3"/>
<circle cx="649" cy="891.4" r="4.3"/>
<circle cx="635.6" cy="899.3" r="4.3"/>
<circle cx="639.2" cy="911" r="4.3"/>
<circle cx="632.4" cy="915" r="4.3"/>
<line x1="442.2" y1="727.5" x2="442.2" y2="942.9" stroke="#000" stroke-width="2"/>
<line x1="435.7" y1="941.9" x2="684.7" y2="941.9" stroke="#000" stroke-width="2"/>
<line x1="435.7" y1="941.9" x2="442.2" y2="941.9" stroke="#000" stroke-width="2"/>
<text transform="translate(432.4,947.9)" font-size="16.3" text-anchor="end">0</text>
<line x1="435.7" y1="902.88" x2="442.2" y2="902.88" stroke="#000" stroke-width="2"/>
<text transform="translate(432.4,908.88)" font-size="16.3" text-anchor="end">20</text>
<line x1="435.7" y1="863.86" x2="442.2" y2="863.86" stroke="#000" stroke-width="2"/>
<text transform="translate(432.4,869.86)" font-size="16.3" text-anchor="end">40</text>
<line x1="435.7" y1="824.84" x2="442.2" y2="824.84" stroke="#000" stroke-width="2"/>
<text transform="translate(432.4,830.84)" font-size="16.3" text-anchor="end">60</text>
<line x1="435.7" y1="785.82" x2="442.2" y2="785.82" stroke="#000" stroke-width="2"/>
<text transform="translate(432.4,791.82)" font-size="16.3" text-anchor="end">80</text>
<line x1="435.7" y1="746.8" x2="442.2" y2="746.8" stroke="#000" stroke-width="2"/>
<text transform="translate(432.4,752.8)" font-size="16.3" text-anchor="end">00</text>
<path transform="translate(405.2,752.8) scale(0.007959,-0.007959)" d="M763 0L583 0L583 1147Q518 1085 412 1023Q306 961 221 930L221 1104Q372 1175 485 1276Q598 1377 645 1472L763 1472Z" stroke="#000" stroke-width="37.7"/>
<line x1="490.6" y1="941.9" x2="490.6" y2="948.4" stroke="#000" stroke-width="2"/>
<line x1="563.05" y1="941.9" x2="563.05" y2="948.4" stroke="#000" stroke-width="2"/>
<line x1="635.5" y1="941.9" x2="635.5" y2="948.4" stroke="#000" stroke-width="2"/>
<text x="491.2" y="966.5" font-size="16" letter-spacing="0.37" text-anchor="middle">0 (n=23)</text>
<text x="563.65" y="966.5" font-size="16" letter-spacing="0.37" text-anchor="middle">2 (n=28)</text>
<text x="636.1" y="966.5" font-size="16" letter-spacing="0.37" text-anchor="middle">5 (n=25)</text>
<text x="564.05" y="984.9" font-size="17.4" text-anchor="middle">Hemoglobin (µg/mL)</text>
<text transform="translate(406.6,835.2) rotate(-90)" font-size="17.3" text-anchor="middle">Ammonia</text>
<text x="358.6" y="682" font-size="35.5" style="stroke:none">F</text>
<g fill="none" stroke="#1a1a1a" stroke-width="1.45"><polyline points="137.9,713.2 137.9,690 283.4,690 283.4,713.2"/><polyline points="137.9,833.5 137.9,726 206.2,726 206.2,814.8"/><polyline points="214.9,814.8 214.9,726 283.4,726 283.4,738.9"/></g><g stroke="#000"><line x1="199.5" y1="675.1" x2="199.5" y2="681.9" stroke-width="1.5"/><line x1="196.56" y1="676.8" x2="202.44" y2="680.2" stroke-width="1.9"/><line x1="202.44" y1="676.8" x2="196.56" y2="680.2" stroke-width="1.9"/><line x1="207.15" y1="675.1" x2="207.15" y2="681.9" stroke-width="1.5"/><line x1="204.21" y1="676.8" x2="210.09" y2="680.2" stroke-width="1.9"/><line x1="210.09" y1="676.8" x2="204.21" y2="680.2" stroke-width="1.9"/><line x1="214.8" y1="675.1" x2="214.8" y2="681.9" stroke-width="1.5"/><line x1="211.86" y1="676.8" x2="217.74" y2="680.2" stroke-width="1.9"/><line x1="217.74" y1="676.8" x2="211.86" y2="680.2" stroke-width="1.9"/><line x1="172.4" y1="711" x2="172.4" y2="717.8" stroke-width="1.5"/><line x1="169.46" y1="712.7" x2="175.34" y2="716.1" stroke-width="1.9"/><line x1="175.34" y1="712.7" x2="169.46" y2="716.1" stroke-width="1.9"/><line x1="248.7" y1="711" x2="248.7" y2="717.8" stroke-width="1.5"/><line x1="245.76" y1="712.7" x2="251.64" y2="716.1" stroke-width="1.9"/><line x1="251.64" y1="712.7" x2="245.76" y2="716.1" stroke-width="1.9"/></g>
</svg></body></html>
